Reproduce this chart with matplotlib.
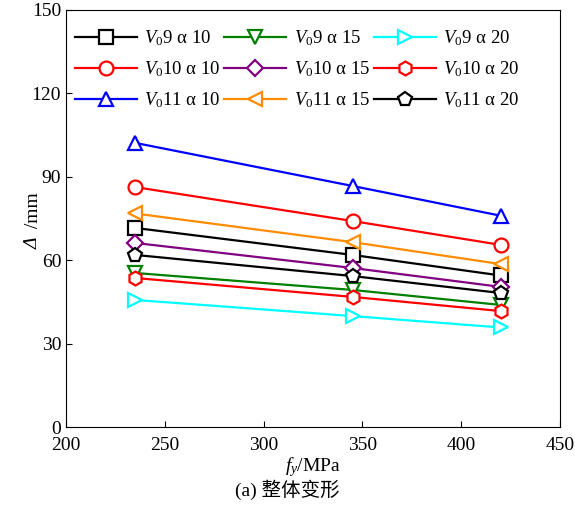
import matplotlib.pyplot as plt

plt.rcParams['font.family'] = ['Liberation Serif', 'Noto Sans CJK SC']
plt.rcParams['mathtext.fontset'] = 'custom'
plt.rcParams['mathtext.rm'] = 'Liberation Serif'
plt.rcParams['mathtext.it'] = 'Liberation Serif:italic'

fy = [235, 345, 420]

labels = ['$V_0$9 α 10', '$V_0$9 α 15', '$V_0$9 α 20',
          '$V_0$10 α 10', '$V_0$10 α 15', '$V_0$10 α 20',
          '$V_0$11 α 10', '$V_0$11 α 15', '$V_0$11 α 20']
values = [
    [71.6, 61.9, 54.5],   # V0 9 a10
    [55.4, 49.3, 43.9],   # V0 9 a15
    [45.7, 39.9, 35.8],   # V0 9 a20
    [86.3, 74.1, 65.5],   # V0 10 a10
    [66.2, 57.2, 50.4],   # V0 10 a15
    [53.6, 46.8, 41.7],   # V0 10 a20
    [102.2, 86.7, 76.0],  # V0 11 a10
    [76.8, 66.5, 58.6],   # V0 11 a15
    [61.9, 54.3, 48.2],   # V0 11 a20
]
colors = ['black', 'green', 'cyan', 'red', 'purple', 'red', 'blue', 'darkorange', 'black']
markers = ['s', 'v', '>', 'o', 'D', 'h', '^', '<', 'p']

fig = plt.figure(figsize=(5.75, 5.09), dpi=100)
ax = fig.add_axes([66/575, 1-427/509, 494/575, 417/509])

handles = []
for lab, v, c, m in zip(labels, values, colors, markers):
    ms = 8.5 if m == 'D' else 10
    h, = ax.plot(fy, v, color=c, marker=m, lw=1.6, ms=ms, mfc='white', mew=1.6, label=lab)
    handles.append(h)

ax.set_xlim(200, 450)
ax.set_ylim(0, 150)
ax.set_xticks([200, 250, 300, 350, 400, 450])
ax.set_yticks([0, 30, 60, 90, 120, 150])
ax.tick_params(direction='in', labelsize=14, length=4)
ax.tick_params(axis='x', pad=7)
ax.set_xlabel('$f_y$/MPa', fontsize=14, labelpad=1)

# y label: italic delta + upright unit
fig.text(33/575, 1-243/509, 'Δ', style='italic', rotation=90, ha='center', va='center', fontsize=14)
fig.text(33/575, 1-233/509, ' /mm', rotation=90, ha='center', va='bottom', fontsize=14)

# legend fills row by row in the reference
order = [0, 3, 6, 1, 4, 7, 2, 5, 8]
leg = ax.legend([handles[i] for i in order], [labels[i] for i in order],
                ncol=3, loc='upper left', bbox_to_anchor=(-0.02, 1.0), frameon=False,
                fontsize=13.5, handlelength=3.3, columnspacing=0.2, handletextpad=0.4,
                labelspacing=0.6, borderaxespad=0.7, borderpad=0.3)

fig.text(0.5, 1-490/509, '(a) 整体变形', ha='center', va='center', fontsize=14)

fig.savefig('out.png', dpi=100)
